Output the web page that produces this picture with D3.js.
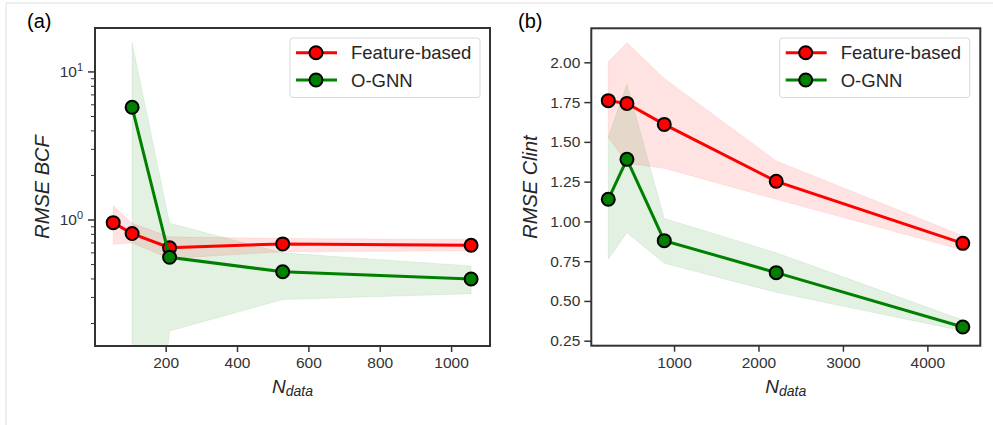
<!DOCTYPE html>
<html>
<head>
<meta charset="utf-8">
<script src="https://d3js.org/d3.v7.min.js"></script>
<style>
  body { margin: 0; background: #fff; }
  svg text { font-family: "Liberation Sans", Arial, sans-serif; }
</style>
</head>
<body>
<div id="chart"></div>
<script>
// panel (a): BCF, log y axis
var nA = [53, 106, 211, 528, 1056]
var featA = [0.96, 0.81, 0.65, 0.69, 0.675]
var featALo = [0.685, 0.70, 0.55, 0.61, 0.62]
var featAHi = [1.25, 0.95, 0.77, 0.75, 0.74]
var gnnNA = [106, 211, 528, 1056]
var gnnA = [5.77, 0.56, 0.447, 0.40]
// lower bound at 106 falls below the axis
var gnnALo = [0.001, 0.178, 0.29, 0.318]
var gnnAHi = [15.8, 0.95, 0.60, 0.49]
var xTicksA = [200, 400, 600, 800, 1000]

// panel (b): Clint, linear y axis
var nB = [221, 442, 884, 2210, 4420]
var featB = [1.759, 1.742, 1.61, 1.252, 0.862]
var featBLo = [1.529, 1.365, 1.334, 1.139, 0.82]
var featBHi = [2.004, 2.123, 1.899, 1.38, 0.91]
var gnnB = [1.139, 1.39, 0.879, 0.678, 0.336]
var gnnBLo = [0.762, 0.929, 0.737, 0.554, 0.311]
var gnnBHi = [1.529, 1.862, 1.019, 0.803, 0.38]
var xTicksB = [1000, 2000, 3000, 4000]
var yTicksB = [0.25, 0.50, 0.75, 1.00, 1.25, 1.50, 1.75, 2.00]

var seriesNames = ["Feature-based", "O-GNN"]
var colors = ["#ff0000", "#008000"]

var width = 993, height = 425;
var svg = d3.select("#chart").append("svg")
    .attr("width", width)
    .attr("height", height);

// light frame around the figure
svg.append("line").attr("x1", 6).attr("y1", 3).attr("x2", width).attr("y2", 3)
    .style("stroke", "#dedede").style("stroke-width", 1);
svg.append("line").attr("x1", 6).attr("y1", 3).attr("x2", 6).attr("y2", height)
    .style("stroke", "#dedede").style("stroke-width", 1);

function makeSeries(xs, ys, lo, hi) {
    return xs.map(function(x, i) { return {x: x, y: ys[i], lo: lo[i], hi: hi[i]}; });
}

function drawPanel(p) {
    var g = svg.append("g");
    var x = d3.scaleLinear().domain(p.xDomain).range([p.left, p.right]);
    var y = p.log ? d3.scaleLog().domain(p.yDomain).range([p.bottom, p.top])
                  : d3.scaleLinear().domain(p.yDomain).range([p.bottom, p.top]);

    var clipId = "clip" + p.id;
    g.append("clipPath").attr("id", clipId).append("rect")
        .attr("x", p.left).attr("y", p.top)
        .attr("width", p.right - p.left).attr("height", p.bottom - p.top);

    var area = d3.area().x(d => x(d.x)).y0(d => y(d.lo)).y1(d => y(d.hi));
    var line = d3.line().x(d => x(d.x)).y(d => y(d.y));

    p.series.forEach(function(s, i) {
        g.append("path")
            .attr("clip-path", "url(#" + clipId + ")")
            .attr("d", area(s))
            .style("fill", colors[i])
            .style("fill-opacity", 0.11)
            .style("stroke", colors[i])
            .style("stroke-opacity", 0.08)
            .style("stroke-width", 1);
    });
    p.series.forEach(function(s, i) {
        g.append("path")
            .attr("d", line(s))
            .style("fill", "none")
            .style("stroke", colors[i])
            .style("stroke-width", 3);
        g.selectAll(".dot" + i)
            .data(s)
            .enter()
            .append("circle")
            .attr("cx", d => x(d.x))
            .attr("cy", d => y(d.y))
            .attr("r", 6.5)
            .style("fill", colors[i])
            .style("stroke", "#000")
            .style("stroke-width", 2);
    });

    // x axis
    var xAxis = g.append("g")
        .attr("transform", "translate(0," + p.bottom + ")")
        .call(d3.axisBottom(x).tickValues(p.xTicks).tickSize(6).tickPadding(5).tickFormat(d3.format("d")));
    xAxis.select(".domain").remove();
    xAxis.selectAll("line").style("stroke", "#333").style("stroke-width", 1.5);
    xAxis.selectAll("text").style("font-size", "15.5px").style("fill", "#333")
        .attr("font-family", "Liberation Sans");

    // y axis
    var yAxis = g.append("g").attr("transform", "translate(" + p.left + ",0)");
    if (p.log) {
        var minor = [];
        [0.1, 1, 10].forEach(function(dec) {
            for (var k = 2; k <= 9; k++) {
                var v = dec * k;
                if (v > p.yDomain[0] && v < p.yDomain[1]) minor.push(v);
            }
        });
        yAxis.selectAll(".minor").data(minor).enter().append("line")
            .attr("x1", -4).attr("x2", 0)
            .attr("y1", d => y(d)).attr("y2", d => y(d))
            .style("stroke", "#333").style("stroke-width", 1);
        var major = yAxis.selectAll(".major").data(p.yTicks).enter().append("g")
            .attr("transform", d => "translate(0," + y(d) + ")");
        major.append("line").attr("x1", -7).attr("x2", 0)
            .style("stroke", "#333").style("stroke-width", 1.5);
        var lab = major.append("text")
            .attr("x", -12).attr("dy", "0.35em")
            .attr("text-anchor", "end")
            .style("font-size", "15.5px").style("fill", "#333");
        lab.append("tspan").text("10");
        lab.append("tspan").attr("dy", "-0.55em").style("font-size", "11px")
            .text(d => Math.round(Math.log10(d)));
    } else {
        yAxis.call(d3.axisLeft(y).tickValues(p.yTicks).tickSize(7).tickPadding(4).tickFormat(d3.format(".2f")));
        yAxis.select(".domain").remove();
        yAxis.selectAll("line").style("stroke", "#333").style("stroke-width", 1.5);
        yAxis.selectAll("text").style("font-size", "15.5px").style("fill", "#333")
            .attr("font-family", "Liberation Sans");
    }

    // frame
    g.append("rect")
        .attr("x", p.left).attr("y", p.top)
        .attr("width", p.right - p.left).attr("height", p.bottom - p.top)
        .style("fill", "none").style("stroke", "#333").style("stroke-width", 2);

    // axis labels
    var xl = g.append("text")
        .attr("x", (p.left + p.right) / 2).attr("y", p.bottom + 47)
        .attr("text-anchor", "middle")
        .style("fill", "#262626");
    xl.append("tspan").style("font-style", "italic").style("font-size", "19px").text("N");
    xl.append("tspan").attr("dy", 3).style("font-style", "italic").style("font-size", "14px").text("data");

    g.append("text")
        .attr("transform", "translate(" + p.yLabelX + "," + (p.top + p.bottom) / 2 + ") rotate(-90)")
        .attr("text-anchor", "middle")
        .attr("dy", "0.35em")
        .style("font-style", "italic").style("font-size", "20px").style("fill", "#262626")
        .text(p.yLabel);

    // panel letter
    g.append("text")
        .attr("x", p.letterX).attr("y", 28)
        .style("font-size", "20px").style("fill", "#000")
        .text(p.letter);

    // legend
    var lg = g.append("g").attr("transform", "translate(" + p.legendX + ",38)");
    lg.append("rect")
        .attr("width", 190).attr("height", 59.5).attr("rx", 3)
        .style("fill", "#fff").style("fill-opacity", 0.8)
        .style("stroke", "#d9d9d9").style("stroke-width", 1);
    seriesNames.forEach(function(name, i) {
        var row = lg.append("g").attr("transform", "translate(0," + (14.7 + i * 27.3) + ")");
        row.append("line").attr("x1", 6).attr("x2", 47)
            .style("stroke", colors[i]).style("stroke-width", 3);
        row.append("circle").attr("cx", 26).attr("r", 6.5)
            .style("fill", colors[i]).style("stroke", "#000").style("stroke-width", 2);
        row.append("text").attr("x", 61).attr("dy", "0.36em")
            .style("font-size", "18.5px").style("fill", "#262626")
            .text(name);
    });
}

drawPanel({
    id: "a", letter: "(a)", letterX: 27,
    left: 95, right: 490, top: 28, bottom: 346,
    xDomain: [2, 1109], yDomain: [0.141, 19.8], log: true,
    xTicks: xTicksA, yTicks: [1, 10],
    yLabel: "RMSE BCF", yLabelX: 42, legendX: 290,
    series: [makeSeries(nA, featA, featALo, featAHi), makeSeries(gnnNA, gnnA, gnnALo, gnnAHi)]
});

drawPanel({
    id: "b", letter: "(b)", letterX: 518,
    left: 591.3, right: 980.3, top: 28.3, bottom: 345.7,
    xDomain: [20, 4627], yDomain: [0.2186, 2.214], log: false,
    xTicks: xTicksB, yTicks: yTicksB,
    yLabel: "RMSE Clint", yLabelX: 530, legendX: 779.7,
    series: [makeSeries(nB, featB, featBLo, featBHi), makeSeries(nB, gnnB, gnnBLo, gnnBHi)]
});
</script>
</body>
</html>
